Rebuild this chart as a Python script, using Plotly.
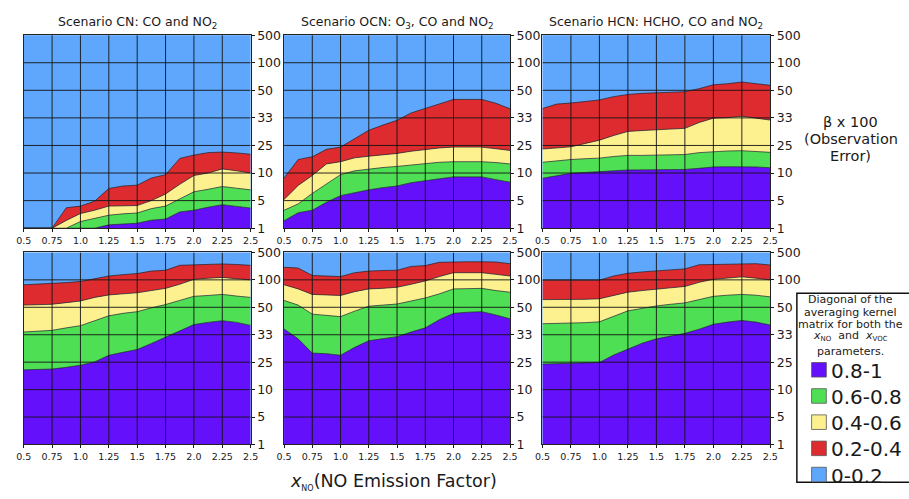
import plotly.graph_objects as go

W, H = 909, 499

x_vals = [0.5, 0.625, 0.75, 0.875, 1.0, 1.125, 1.25, 1.375, 1.5, 1.625, 1.75,
          1.875, 2.0, 2.125, 2.25, 2.375, 2.5]
x_ticks = [0.5, 0.75, 1.0, 1.25, 1.5, 1.75, 2.0, 2.25, 2.5]
x_ticktext = ["0.5", "0.75", "1.0", "1.25", "1.5", "1.75", "2.0", "2.25", "2.5"]
y_ticktext = ["1", "5", "10", "25", "33", "50", "100", "500"]  # equally spaced levels 0..7

band_names = ["0.8-1", "0.6-0.8", "0.4-0.6", "0.2-0.4", "0-0.2"]
band_colors = ["#6510fb", "#4fdf55", "#fdf18f", "#de2b30", "#5ea7fc"]

titles = ["Scenario CN: CO and NO<sub>2</sub>",
          "Scenario OCN: O<sub>3</sub>, CO and NO<sub>2</sub>",
          "Scenario HCN: HCHO, CO and NO<sub>2</sub>",
          "", "", ""]

# upper boundaries (in axis level units) of bands 0.8-1, 0.6-0.8, 0.4-0.6, 0.2-0.4
cn_purple = [0, 0, 0, 0, 0, 0, 0.12, 0.15, 0.18, 0.29, 0.33, 0.59, 0.65, 0.76, 0.85, 0.79, 0.73]
cn_green = [0, 0, 0, 0, 0.24, 0.35, 0.47, 0.52, 0.55, 0.71, 0.80, 1.06, 1.32, 1.41, 1.51, 1.45, 1.39]
cn_yellow = [0, 0, 0, 0.28, 0.53, 0.65, 0.80, 0.81, 0.82, 1.0, 1.24, 1.59, 1.91, 2.0, 2.15, 2.08, 2.0]
cn_red = [0, 0, 0, 0.74, 0.80, 0.98, 1.44, 1.53, 1.56, 1.82, 1.94, 2.53, 2.65, 2.74, 2.76, 2.73, 2.68]

ocn_purple = [0.27, 0.56, 0.65, 0.94, 1.18, 1.29, 1.39, 1.47, 1.53, 1.65, 1.71, 1.79, 1.86, 1.86, 1.86, 1.76, 1.67]
ocn_green = [0.65, 0.88, 1.26, 1.59, 1.94, 2.08, 2.15, 2.20, 2.24, 2.29, 2.35, 2.39, 2.41, 2.41, 2.41, 2.38, 2.33]
ocn_yellow = [1.04, 1.55, 1.91, 2.33, 2.41, 2.55, 2.61, 2.65, 2.71, 2.79, 2.86, 2.91, 2.94, 2.94, 2.94, 2.88, 2.82]
ocn_red = [1.82, 2.49, 2.59, 2.86, 2.94, 3.24, 3.55, 3.74, 3.91, 4.18, 4.35, 4.52, 4.67, 4.67, 4.67, 4.53, 4.33]

hcn_purple = [1.81, 1.90, 1.99, 2.02, 2.04, 2.08, 2.11, 2.11, 2.11, 2.12, 2.13, 2.17, 2.22, 2.23, 2.23, 2.22, 2.19]
hcn_green = [2.39, 2.45, 2.49, 2.52, 2.54, 2.60, 2.64, 2.64, 2.65, 2.66, 2.67, 2.74, 2.78, 2.80, 2.81, 2.79, 2.75]
hcn_yellow = [2.87, 2.92, 2.95, 3.07, 3.19, 3.36, 3.51, 3.54, 3.56, 3.59, 3.62, 3.83, 3.99, 4.01, 4.06, 3.99, 3.92]
hcn_red = [4.34, 4.50, 4.54, 4.60, 4.65, 4.77, 4.85, 4.89, 4.91, 4.94, 4.95, 5.06, 5.20, 5.24, 5.30, 5.24, 5.18]

b1_purple = [2.72, 2.74, 2.75, 2.81, 2.89, 3.01, 3.25, 3.36, 3.46, 3.68, 3.90, 4.13, 4.37, 4.45, 4.51, 4.45, 4.34]
b1_green = [4.10, 4.12, 4.16, 4.25, 4.33, 4.51, 4.69, 4.78, 4.84, 4.98, 5.10, 5.25, 5.40, 5.43, 5.47, 5.41, 5.36]
b1_yellow = [5.08, 5.09, 5.11, 5.17, 5.23, 5.36, 5.45, 5.49, 5.53, 5.61, 5.69, 5.84, 6.02, 6.06, 6.09, 6.04, 6.0]
b1_red = [5.82, 5.84, 5.87, 5.90, 5.94, 6.04, 6.14, 6.19, 6.23, 6.32, 6.35, 6.53, 6.55, 6.58, 6.58, 6.56, 6.53]

b2_purple = [4.21, 3.85, 3.33, 3.31, 3.25, 3.54, 3.78, 3.86, 3.93, 4.10, 4.25, 4.55, 4.78, 4.82, 4.84, 4.72, 4.58]
b2_green = [5.25, 5.08, 4.75, 4.70, 4.66, 4.86, 5.04, 5.08, 5.12, 5.23, 5.34, 5.49, 5.67, 5.68, 5.69, 5.61, 5.55]
b2_yellow = [5.82, 5.67, 5.47, 5.45, 5.43, 5.57, 5.67, 5.69, 5.73, 5.84, 5.96, 6.12, 6.26, 6.26, 6.26, 6.20, 6.14]
b2_red = [6.46, 6.43, 6.16, 6.14, 6.12, 6.26, 6.32, 6.34, 6.35, 6.49, 6.52, 6.64, 6.66, 6.66, 6.66, 6.65, 6.59]

b3_purple = [2.93, 2.94, 2.95, 2.96, 2.99, 3.26, 3.49, 3.69, 3.85, 3.95, 4.05, 4.20, 4.38, 4.46, 4.52, 4.46, 4.35]
b3_green = [4.40, 4.41, 4.41, 4.44, 4.47, 4.67, 4.87, 4.96, 5.05, 5.11, 5.16, 5.28, 5.40, 5.44, 5.47, 5.44, 5.38]
b3_yellow = [5.28, 5.28, 5.28, 5.29, 5.31, 5.44, 5.55, 5.61, 5.67, 5.71, 5.76, 5.91, 6.02, 6.07, 6.11, 6.06, 6.0]
b3_red = [5.99, 5.99, 5.99, 5.99, 5.99, 6.14, 6.24, 6.29, 6.32, 6.35, 6.40, 6.55, 6.56, 6.59, 6.59, 6.59, 6.54]

panels = [
    [cn_purple, cn_green, cn_yellow, cn_red],
    [ocn_purple, ocn_green, ocn_yellow, ocn_red],
    [hcn_purple, hcn_green, hcn_yellow, hcn_red],
    [b1_purple, b1_green, b1_yellow, b1_red],
    [b2_purple, b2_green, b2_yellow, b2_red],
    [b3_purple, b3_green, b3_yellow, b3_red],
]

right_label = ["β x 100", "(Observation", "Error)"]
legend_title = ["Diagonal of the", "averaging kernel", "matrix for both the",
                "<i>x</i><sub><span style='font-size:7px'>NO</span></sub>  and  "
                "<i>x</i><sub><span style='font-size:7px'>VOC</span></sub>",
                "parameters."]

# ---- layout geometry (pixels) ----
col_px = [(16, 247), (281, 511), (544, 776)]
row_px = [(28, 227), (252, 450)]


def px(x):
    return x / W


def py(y):
    return 1 - y / H


FONT = "DejaVu Sans"
TXT = "#1a1a1a"

fig = go.Figure()
layout = dict(
    width=W, height=H, autosize=False,
    margin=dict(l=0, r=0, t=0, b=0),
    paper_bgcolor="white",
    plot_bgcolor=band_colors[4],
    showlegend=False,
    font=dict(family=FONT, color=TXT),
)

shapes = []
annotations = []


def note(text, x, y, size, anchor="center", height=None):
    a = dict(
        text=text, x=px(x), y=py(y), xref="paper", yref="paper",
        xanchor=anchor, yanchor="middle", showarrow=False, borderpad=0,
        font=dict(size=size, color=TXT, family=FONT))
    if height:
        a["height"] = height
    annotations.append(a)


for i, bands in enumerate(panels):
    r, c = divmod(i, 3)
    ax = "" if i == 0 else str(i + 1)
    xa, ya = "x" + ax, "y" + ax
    for k in range(4):
        fig.add_trace(go.Scatter(
            x=x_vals, y=bands[k], xaxis=xa, yaxis=ya, mode="lines",
            line=dict(color="rgba(30,30,30,0.85)", width=0.8),
            fill="tozeroy" if k == 0 else "tonexty",
            fillcolor=band_colors[k], hoverinfo="skip",
            name=band_names[k],
        ))
    (x0, x1), (y0, y1) = col_px[c], row_px[r]
    layout["xaxis" + ax] = dict(
        domain=[px(x0), px(x1)], anchor=ya, range=[0.5, 2.5],
        tickvals=x_ticks, ticktext=x_ticktext, ticks="outside", ticklen=3,
        tickcolor=TXT, tickfont=dict(size=9.5, color=TXT, family=FONT),
        showgrid=False, zeroline=False, showline=True, linecolor="#222",
        linewidth=1, mirror=True,
    )
    layout["yaxis" + ax] = dict(
        domain=[py(y1), py(y0)], anchor=xa, range=[0, 7], side="right",
        tickvals=list(range(8)), ticktext=y_ticktext, ticks="outside", ticklen=3,
        tickcolor=TXT, tickfont=dict(size=12.5, color=TXT, family=FONT),
        showgrid=False, zeroline=False, showline=True, linecolor="#222",
        linewidth=1, mirror=True,
    )
    # grid lines drawn above the filled bands
    for gx in x_ticks[1:-1]:
        shapes.append(dict(type="line", xref=xa, yref=ya, x0=gx, x1=gx, y0=0, y1=7,
                           line=dict(color="rgba(20,20,20,0.9)", width=1), layer="above"))
    for gy in range(1, 7):
        shapes.append(dict(type="line", xref=xa, yref=ya, x0=0.5, x1=2.5, y0=gy, y1=gy,
                           line=dict(color="rgba(20,20,20,0.9)", width=1), layer="above"))
    if titles[i]:
        note(titles[i], (x0 + x1) / 2, 15, 12.5)

# right-side y-axis description
for txt, yy in zip(right_label, [117, 135, 152]):
    note(txt, 858, yy, 14.5, height=17)

# bottom x-axis description
note("<i>x</i><sub><span style='font-size:8px'>NO</span></sub>(NO Emission Factor)",
     286, 489, 17.5, anchor="left")

# legend box (manual)
shapes.append(dict(type="rect", xref="paper", yref="paper",
                   x0=px(803), x1=px(920), y0=py(489), y1=py(294),
                   line=dict(color="#111", width=1.5), fillcolor="white", layer="above"))
for txt, yy in zip(legend_title, [300, 313, 326, 338.5, 354]):
    note(txt, 858, yy, 11, height=12)

legend_y = [373, 400, 427, 454, 481]
for k in range(5):
    yc = legend_y[k]
    shapes.append(dict(type="rect", xref="paper", yref="paper",
                       x0=px(818), x1=px(833), y0=py(yc + 7.5), y1=py(yc - 7.5),
                       line=dict(color="#555", width=0.8), fillcolor=band_colors[k],
                       layer="above"))
    note(band_names[k], 837, yc + 1, 20, anchor="left", height=20)

layout["shapes"] = shapes
layout["annotations"] = annotations
fig.update_layout(**layout)
fig.write_html(
    "out.html",
    post_script="document.body.style.margin='0px';document.body.style.padding='0px';"
                "document.body.style.overflow='hidden';",
)
